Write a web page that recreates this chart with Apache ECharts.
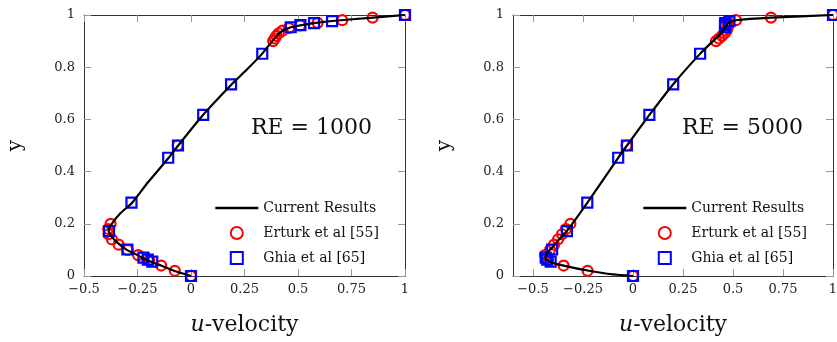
<!DOCTYPE html>
<html>
<head>
<meta charset="utf-8">
<script src="https://cdn.jsdelivr.net/npm/echarts@6/dist/echarts.min.js"></script>
<style>
  html, body { margin: 0; padding: 0; background: #fff; }
  #chart { width: 837px; height: 342px; }
</style>
</head>
<body>
<div id="chart"></div>
<script>
// u-velocity along the vertical centreline: [u, y]
const re1000Current = [
  [0, 0], [-0.08, 0.02], [-0.14, 0.04], [-0.2, 0.058], [-0.25, 0.08], [-0.3, 0.1],
  [-0.34, 0.125], [-0.37, 0.15], [-0.385, 0.175], [-0.37, 0.2], [-0.33, 0.24],
  [-0.274, 0.282], [-0.2, 0.36], [-0.106, 0.451], [-0.06, 0.5], [0.056, 0.617],
  [0.187, 0.732], [0.26, 0.79], [0.333, 0.852], [0.38, 0.9], [0.42, 0.935],
  [0.466, 0.953], [0.51, 0.96], [0.575, 0.969], [0.66, 0.977], [0.85, 0.99], [1, 1]
];
const re1000Erturk = [
  [1, 1], [0.8486, 0.99], [0.7065, 0.98], [0.5917, 0.97], [0.5102, 0.96], [0.4582, 0.95],
  [0.4276, 0.94], [0.4101, 0.93], [0.3993, 0.92], [0.3913, 0.91], [0.3838, 0.9],
  [-0.062, 0.5], [-0.3756, 0.2], [-0.3869, 0.18], [-0.3854, 0.16], [-0.369, 0.14],
  [-0.3381, 0.12], [-0.296, 0.1], [-0.2472, 0.08], [-0.1951, 0.06], [-0.1392, 0.04],
  [-0.0757, 0.02], [0, 0]
];
const re1000Ghia = [
  [1, 1], [0.6593, 0.9766], [0.5749, 0.9688], [0.5112, 0.9609], [0.466, 0.9531],
  [0.333, 0.8516], [0.1872, 0.7344], [0.057, 0.6172], [-0.0608, 0.5], [-0.1065, 0.4531],
  [-0.2781, 0.2813], [-0.3829, 0.1719], [-0.2973, 0.1016], [-0.2222, 0.0703],
  [-0.202, 0.0625], [-0.1811, 0.0547], [0, 0]
];

const re5000Current = [
  [0, 0], [-0.1, 0.006], [-0.227, 0.021], [-0.347, 0.04], [-0.41, 0.053], [-0.438, 0.068],
  [-0.43, 0.088], [-0.405, 0.108], [-0.37, 0.14], [-0.33, 0.173], [-0.227, 0.282],
  [-0.074, 0.453], [-0.03, 0.5], [0.082, 0.617], [0.2, 0.734], [0.336, 0.852],
  [0.4, 0.9], [0.44, 0.93], [0.46, 0.953], [0.477, 0.97], [0.515, 0.98], [0.69, 0.99], [1, 1]
];
const re5000Erturk = [
  [1, 1], [0.69, 0.99], [0.515, 0.98], [0.475, 0.97], [0.474, 0.96], [0.473, 0.95],
  [0.468, 0.94], [0.458, 0.93], [0.445, 0.92], [0.43, 0.91], [0.415, 0.9],
  [-0.032, 0.5], [-0.313, 0.2], [-0.335, 0.18], [-0.355, 0.16], [-0.375, 0.14],
  [-0.395, 0.12], [-0.415, 0.1], [-0.44, 0.08], [-0.425, 0.06], [-0.347, 0.04],
  [-0.227, 0.02], [0, 0]
];
const re5000Ghia = [
  [1, 1], [0.4822, 0.9766], [0.4612, 0.9688], [0.4599, 0.9609], [0.4604, 0.9531],
  [0.3356, 0.8516], [0.2009, 0.7344], [0.0818, 0.6172], [-0.0304, 0.5], [-0.074, 0.4531],
  [-0.2286, 0.2813], [-0.3305, 0.1719], [-0.4044, 0.1016], [-0.4364, 0.0703],
  [-0.429, 0.0625], [-0.4117, 0.0547], [0, 0]
];

const seriesNames = ["Current Results", "Erturk et al [55]", "Ghia et al [65]"];
const xTicks = [-0.5, -0.25, 0, 0.25, 0.5, 0.75, 1];
const yTicks = [0, 0.2, 0.4, 0.6, 0.8, 1];
const panelLabels = ["RE = 1000", "RE = 5000"];

const FONT = "DejaVu Serif";
const grids = [
  { left: 84, top: 15, width: 321, height: 261, xMin: -0.5 },
  { left: 513, top: 15, width: 320, height: 261, xMin: -0.6 },
];

const fmt = (v) => String(+v.toFixed(2)).replace("-", "\u2212");

const chart = echarts.init(document.getElementById("chart"), null, { renderer: "canvas" });

const xAxis = [];
const yAxis = [];
grids.forEach((g, i) => {
  const common = {
    gridIndex: i,
    splitLine: { show: false },
    axisLine: { show: true, onZero: false, lineStyle: { color: "#333", width: 1 } },
    axisTick: { show: true, inside: true, length: 7, lineStyle: { color: "#999" } },
  };
  // bottom & top (mirror) x axes
  xAxis.push({
    ...common,
    type: "value", position: "bottom", min: g.xMin, max: 1,
    axisTick: { ...common.axisTick, customValues: xTicks },
    axisLabel: { customValues: xTicks, formatter: fmt, color: "#222", fontFamily: FONT, fontSize: 13, margin: 7 },
    name: "{i|u}-velocity", nameLocation: "middle", nameGap: 38,
    nameTextStyle: {
      color: "#111", fontFamily: FONT, fontSize: 22,
      rich: { i: { fontStyle: "italic", fontFamily: FONT, fontSize: 22, color: "#111" } },
    },
  });
  xAxis.push({
    ...common,
    type: "value", position: "top", min: g.xMin, max: 1,
    axisTick: { ...common.axisTick, customValues: xTicks },
    axisLabel: { show: false },
  });
  // left & right (mirror) y axes
  yAxis.push({
    ...common,
    type: "value", position: "left", min: 0, max: 1, interval: 0.2,
    axisLabel: { formatter: fmt, color: "#222", fontFamily: FONT, fontSize: 13, margin: 9 },
    name: "y", nameLocation: "middle", nameGap: 58,
    nameTextStyle: { color: "#111", fontFamily: FONT, fontSize: 20 },
  });
  yAxis.push({
    ...common,
    type: "value", position: "right", min: 0, max: 1, interval: 0.2,
    axisLabel: { show: false },
  });
});

const panelData = [
  [re1000Current, re1000Erturk, re1000Ghia],
  [re5000Current, re5000Erturk, re5000Ghia],
];

const series = [];
panelData.forEach((sets, i) => {
  const axes = { xAxisIndex: i * 2, yAxisIndex: i * 2 };
  series.push({
    ...axes, name: seriesNames[0], type: "line", data: sets[0],
    smooth: 0.2, showSymbol: false, symbol: "none",
    lineStyle: { color: "#000", width: 2.2 }, itemStyle: { color: "#000" },
  });
  series.push({
    ...axes, name: seriesNames[1], type: "scatter", data: sets[1],
    symbol: "circle", symbolSize: 10,
    itemStyle: { color: "rgba(0,0,0,0)", borderColor: "#ff0000", borderWidth: 2.2, opacity: 1 },
  });
  series.push({
    ...axes, name: seriesNames[2], type: "scatter", data: sets[2],
    symbol: "rect", symbolSize: 10,
    itemStyle: { color: "rgba(0,0,0,0)", borderColor: "#0000ff", borderWidth: 2.2, opacity: 1 },
  });
});

// legend entries: plain line for our results, square icon for Ghia
const legendData = [
  { name: seriesNames[0], itemStyle: { color: "rgba(0,0,0,0)", borderWidth: 0 }, lineStyle: { width: 2.6 } },
  { name: seriesNames[1] },
  { name: seriesNames[2], icon: "path://M0,0H10V10H0Z" },
];

const legend = grids.map((g, i) => ({
  data: legendData,
  orient: "vertical",
  left: [209, 637][i],
  top: 196,
  itemWidth: 43,
  itemHeight: 12,
  itemGap: 11,
  symbolKeepAspect: true,
  textStyle: { color: "#111", fontFamily: FONT, fontSize: 14 },
  selectedMode: false,
}));

chart.setOption({
  animation: false,
  grid: grids.map((g) => ({ left: g.left, top: g.top, width: g.width, height: g.height, containLabel: false, outerBoundsMode: "none" })),
  xAxis,
  yAxis,
  legend,
  series,
  graphic: panelLabels.map((t, i) => ({
    type: "text",
    left: [251, 682][i],
    top: 117,
    style: { text: t, font: "22px '" + FONT + "'", fill: "#111" },
  })),
});
</script>
</body>
</html>
